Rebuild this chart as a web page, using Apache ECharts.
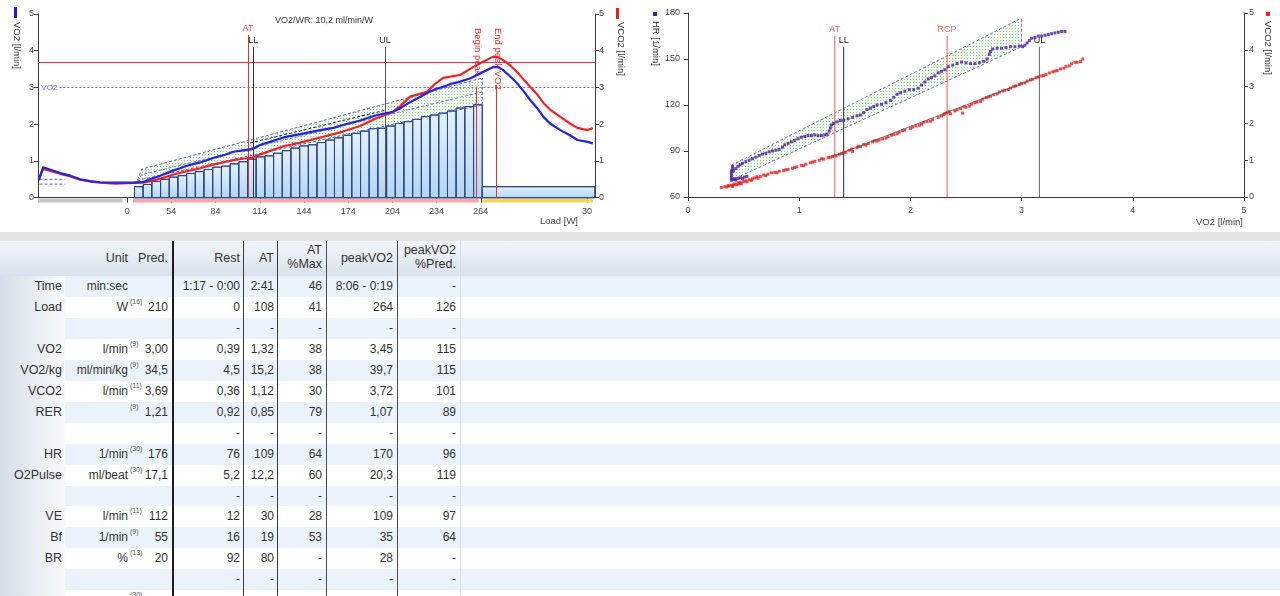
<!DOCTYPE html>
<html>
<head>
<meta charset="utf-8">
<script src="https://cdn.jsdelivr.net/npm/echarts@6/dist/echarts.min.js"></script>
<style>
  body { margin: 0; background: #fff; font-family: 'Liberation Sans', Arial, sans-serif; }
  #chart { position: absolute; left: 0; top: 0; width: 1280px; height: 232px; }
  #gap { position: absolute; left: 0; top: 232px; width: 1280px; height: 9px; background: #e3e3e3; }
  #table { position: absolute; left: 0; top: 241px; width: 1280px; height: 355px; overflow: hidden; color: #333; }
  #table div { position: absolute; white-space: nowrap; }
  .c { font-size: 12px; text-align: right; }
  .h { font-size: 12.5px; text-align: right; line-height: 14px; }
  .sup { font-size: 7px; color: #555; }
</style>
</head>
<body>
<div id="chart"></div>
<div id="gap"></div>
<div id="table"></div>
<script>
// ---- left chart: VO2 / VCO2 over time (seconds from start of load) ----
const tickTimes = [0, 60, 120, 180, 240, 300, 360, 420, 480, 624]
const tickLoads = ['0', '54', '84', '114', '144', '174', '204', '234', '264', '30']

// load steps (W) of the ramp, one per step
const loadSteps = [30, 36, 44, 50, 56, 60, 66, 71, 77, 83, 86, 92, 98, 105, 111, 114, 121, 128, 135, 141,
  144, 150, 157, 163, 170, 175, 181, 188, 189, 195, 202, 207, 213, 221, 225, 230, 236, 244, 248, 253]
const stepStart = 10
const stepSec = 11.8
const recovery = [482, 635, 30] // start, end, load W

// rest / exercise / recovery phases
const phases = [[-121, -6], [8, 477], [482, 632]]
const phaseColors = ['#c4c4c4', '#f4a9a9', '#f3d55c']

const vo2Curve = [[-120, 0.48], [-114, 0.83], [-104, 0.76], [-91, 0.67], [-77, 0.6], [-64, 0.5], [-50, 0.45], [-37, 0.42],
  [-16, 0.41], [8, 0.41], [22, 0.43], [31, 0.5], [41, 0.57], [52, 0.65], [61, 0.73], [72, 0.8], [81, 0.87], [99, 0.96],
  [117, 1.08], [133, 1.17], [144, 1.25], [155, 1.28], [164, 1.3], [171, 1.33], [181, 1.44], [194, 1.52], [212, 1.64],
  [235, 1.73], [262, 1.84], [280, 1.9], [293, 1.98], [316, 2.1], [339, 2.25], [361, 2.34], [372, 2.45], [384, 2.6],
  [398, 2.75], [407, 2.85], [418, 2.95], [429, 3.02], [440, 3.1], [452, 3.16], [466, 3.25], [475, 3.34], [486, 3.45],
  [497, 3.56], [504, 3.55], [510, 3.48], [520, 3.3], [529, 3.12], [538, 2.9], [547, 2.66], [557, 2.43], [565, 2.2],
  [574, 2.02], [588, 1.84], [601, 1.7], [611, 1.57], [625, 1.52], [632, 1.48]]

const vco2Curve = [[-120, 0.5], [-114, 0.78], [-104, 0.73], [-91, 0.65], [-77, 0.58], [-64, 0.49], [-50, 0.44], [-37, 0.41],
  [-16, 0.38], [8, 0.4], [22, 0.41], [31, 0.45], [41, 0.5], [52, 0.56], [61, 0.62], [81, 0.72], [99, 0.8], [117, 0.9],
  [144, 1.02], [164, 1.08], [171, 1.1], [181, 1.18], [212, 1.4], [235, 1.5], [262, 1.64], [293, 1.8], [316, 1.95],
  [339, 2.17], [361, 2.34], [371, 2.5], [384, 2.75], [407, 2.88], [418, 3.1], [429, 3.26], [440, 3.3], [452, 3.34],
  [470, 3.56], [483, 3.7], [497, 3.84], [504, 3.82], [510, 3.75], [520, 3.6], [529, 3.43], [538, 3.22], [547, 3.02],
  [557, 2.8], [565, 2.58], [574, 2.4], [588, 2.2], [601, 2.02], [611, 1.9], [625, 1.84], [632, 1.9]]

// predicted VO2 band
const bandTimes = [14, 20, 482]
const bandLow = [0.45, 0.5, 2.53]
const bandHigh = [0.48, 0.78, 3.26]
const bandMid = [0.46, 0.63, 2.88]
const restRefTimes = [-119, -84]
const restRefLow = 0.37
const restRefHigh = 0.5
const llSlope = [[167, 1.49], [350, 2.38]]

// ---- right chart: HR and VCO2 against VO2 ----
const hrPoints = [[0.39, 71], [0.39, 72.5], [0.39, 74], [0.39, 75.5], [0.39, 77], [0.4, 78.5], [0.4, 80], [0.41, 71.5],
  [0.42, 72], [0.43, 71], [0.45, 72], [0.47, 72.5], [0.49, 72], [0.51, 73], [0.53, 73.5],
  [0.41, 77], [0.43, 78.5], [0.45, 80], [0.47, 81], [0.49, 82], [0.52, 83], [0.55, 84], [0.58, 85], [0.61, 86],
  [0.64, 87], [0.67, 88], [0.7, 88.5], [0.73, 89.5], [0.76, 90], [0.79, 90.5], [0.82, 91], [0.85, 92.5], [0.87, 94],
  [0.9, 95], [0.93, 96], [0.96, 97], [0.99, 98], [1.02, 99], [1.05, 99.5], [1.08, 100], [1.11, 100], [1.14, 100.5],
  [1.17, 100], [1.2, 100], [1.23, 100.5], [1.25, 101], [1.27, 103], [1.28, 105], [1.29, 107], [1.31, 108], [1.34, 109],
  [1.37, 110], [1.4, 110], [1.44, 111], [1.48, 112], [1.52, 113], [1.55, 113.5], [1.58, 115], [1.61, 117], [1.64, 118],
  [1.67, 119], [1.7, 120], [1.74, 120.5], [1.78, 121.5], [1.82, 123], [1.85, 125], [1.88, 127], [1.91, 128], [1.95, 129],
  [1.99, 130], [2.03, 130], [2.07, 131], [2.1, 133], [2.13, 135], [2.16, 137], [2.19, 138], [2.22, 139], [2.25, 141],
  [2.28, 142], [2.31, 143], [2.34, 145], [2.38, 146], [2.42, 147], [2.46, 148], [2.5, 147.5], [2.54, 147], [2.58, 147],
  [2.62, 147.5], [2.66, 148.5], [2.69, 150], [2.71, 153], [2.72, 155], [2.74, 156.5], [2.78, 157], [2.82, 157],
  [2.86, 157.5], [2.9, 158], [2.94, 158], [2.98, 158.5], [3.01, 158], [3.03, 159], [3.05, 160.5], [3.07, 162],
  [3.09, 163.5], [3.12, 164], [3.15, 165], [3.18, 165], [3.21, 165.5], [3.24, 166], [3.27, 166.5], [3.3, 167],
  [3.33, 167.5], [3.36, 168], [3.39, 168]]

const vco2Points = [[0.3, 0.26], [0.33, 0.28], [0.35, 0.27], [0.37, 0.3], [0.39, 0.32], [0.4, 0.29], [0.42, 0.35],
  [0.44, 0.33], [0.45, 0.38], [0.47, 0.4], [0.48, 0.36], [0.5, 0.42], [0.52, 0.44], [0.55, 0.47], [0.57, 0.45],
  [0.6, 0.52], [0.62, 0.55], [0.65, 0.56], [0.68, 0.6], [0.72, 0.62], [0.75, 0.66], [0.78, 0.67], [0.82, 0.7],
  [0.86, 0.72], [0.9, 0.75], [0.94, 0.78], [0.98, 0.82], [1.02, 0.86], [1.06, 0.89], [1.1, 0.93], [1.14, 0.97],
  [1.18, 1.0], [1.22, 1.03], [1.26, 1.07], [1.3, 1.1], [1.33, 1.12], [1.38, 1.18], [1.42, 1.22], [1.45, 1.27],
  [1.48, 1.24], [1.52, 1.34], [1.55, 1.37], [1.58, 1.43], [1.62, 1.45], [1.66, 1.5], [1.7, 1.52], [1.75, 1.58],
  [1.8, 1.64], [1.85, 1.7], [1.9, 1.76], [1.95, 1.82], [2.0, 1.86], [2.05, 1.93], [2.1, 1.98], [2.15, 2.05],
  [2.2, 2.1], [2.25, 2.16], [2.3, 2.24], [2.33, 2.29], [2.36, 2.26], [2.4, 2.34], [2.45, 2.4], [2.5, 2.44],
  [2.55, 2.52], [2.6, 2.58], [2.65, 2.66], [2.7, 2.72], [2.75, 2.78], [2.8, 2.85], [2.85, 2.9], [2.9, 2.96],
  [2.95, 3.02], [3.0, 3.08], [3.05, 3.15], [3.1, 3.2], [3.15, 3.26], [3.2, 3.3], [3.25, 3.37], [3.3, 3.42],
  [3.35, 3.48], [3.4, 3.55], [3.45, 3.62], [3.5, 3.66], [3.55, 3.75],
  [0.36, 0.31], [0.41, 0.33], [0.46, 0.36], [0.53, 0.41], [0.58, 0.49], [0.63, 0.51], [0.7, 0.58], [0.8, 0.66],
  [0.88, 0.74], [0.96, 0.8], [1.04, 0.85], [1.12, 0.95], [1.2, 1.04], [1.28, 1.08], [1.36, 1.16], [1.4, 1.2],
  [1.47, 1.3], [1.53, 1.38], [1.6, 1.41], [1.68, 1.53], [1.72, 1.55], [1.78, 1.6], [1.83, 1.68], [1.88, 1.72],
  [1.93, 1.8], [2.02, 1.9], [2.08, 1.95], [2.12, 2.03], [2.18, 2.06], [2.28, 2.2], [2.31, 2.27], [2.35, 2.32],
  [2.42, 2.37], [2.47, 2.28], [2.48, 2.45], [2.53, 2.47], [2.58, 2.56], [2.63, 2.6], [2.68, 2.7], [2.72, 2.74],
  [2.78, 2.8], [2.83, 2.88], [2.88, 2.92], [2.93, 3.0], [2.98, 3.06], [3.03, 3.1], [3.08, 3.18], [3.13, 3.24],
  [3.18, 3.29], [3.22, 3.33], [3.28, 3.4], [3.32, 3.44], [3.38, 3.5], [3.43, 3.56], [3.48, 3.66], [3.53, 3.68]]
const vco2Trend = [[1.3, 1.1], [3.16, 3.27]]

const hrBandVO2 = [0.39, 3.0]
const hrBandLow = [71, 158]
const hrBandHigh = [80.7, 176.7]

// threshold lines of the right chart: name, VO2, top HR
const hrThresholds = [['AT', 1.32, 165], ['LL', 1.40, 158], ['RCP', 2.33, 165], ['UL', 3.16, 158]]

// ---- table ----
const rowLabels = ['Time', 'Load', '', 'VO2', 'VO2/kg', 'VCO2', 'RER', '', 'HR', 'O2Pulse', '', 'VE', 'Bf', 'BR', '', '']
const units = ['min:sec', 'W', '', 'l/min', 'ml/min/kg', 'l/min', '', '', '1/min', 'ml/beat', '', 'l/min', '1/min', '%', '', '']
const refs = ['', '(16)', '', '(9)', '(9)', '(11)', '(9)', '', '(30)', '(30)', '', '(11)', '(9)', '(13)', '', '(30)']
const predVals = ['', '210', '', '3,00', '34,5', '3,69', '1,21', '', '176', '17,1', '', '112', '55', '20', '', '']
const restVals = ['1:17 - 0:00', '0', '-', '0,39', '4,5', '0,36', '0,92', '-', '76', '5,2', '-', '12', '16', '92', '-', '']
const atVals = ['2:41', '108', '-', '1,32', '15,2', '1,12', '0,85', '-', '109', '12,2', '-', '30', '19', '80', '-', '']
const atMaxVals = ['46', '41', '-', '38', '38', '30', '79', '-', '64', '60', '-', '28', '53', '-', '-', '']
const peakVals = ['8:06 - 0:19', '264', '-', '3,45', '39,7', '3,72', '1,07', '-', '170', '20,3', '-', '109', '35', '28', '-', '']
const peakPredVals = ['-', '126', '-', '115', '115', '101', '89', '-', '96', '119', '-', '97', '64', '-', '-', '']
const headers = [['Unit'], ['Pred.'], ['Rest'], ['AT'], ['AT', '%Max'], ['peakVO2'], ['peakVO2', '%Pred.']]

// dotted green fill for the prediction bands
const pat = document.createElement('canvas')
pat.width = 3
pat.height = 3
const pctx = pat.getContext('2d')
pctx.fillStyle = '#f1f9ef'
pctx.fillRect(0, 0, 3, 3)
pctx.fillStyle = '#8ccc8c'
pctx.fillRect(1, 1, 1, 1)
const dotted = { image: pat, repeat: 'repeat' }

const font = 'Liberation Sans, Arial, sans-serif'
const axisColor = '#3a3a3a'
const lbl = { fontSize: 9, color: '#444', fontFamily: font }
const noSym = ['none', 'none']

const bandDash = { color: '#5a5ad0', width: 1, type: [3, 2] }
const hrDash = { color: '#7a70c8', width: 1, type: [3, 2] }

// vertical marker line from the axis floor to `top`, label above it
function vLine(x, bottom, top, color, label, labelColor) {
  return [
    {
      coord: [x, bottom],
      lineStyle: { color: color, width: 1, type: 'solid', opacity: 1 },
      label: { show: !!label, formatter: label || '', position: 'end', distance: 2, color: labelColor || color, fontSize: 9 }
    },
    { coord: [x, top] }
  ]
}

// filled polygon between two lines, drawn through the axes
function bandPolygon(xs, low, high, xi, yi) {
  return {
    type: 'custom', xAxisIndex: xi, yAxisIndex: yi, z: 1, silent: true, data: [[xs[0], low[0]]],
    renderItem: (params, api) => {
      const pts = xs.map((x, i) => api.coord([x, low[i]]))
        .concat(xs.map((x, i) => api.coord([x, high[i]])).reverse())
      return { type: 'polygon', shape: { points: pts }, style: { fill: dotted } }
    }
  }
}

function plain(xi, yi, data, style, z) {
  return { type: 'line', xAxisIndex: xi, yAxisIndex: yi, symbol: 'none', z: z || 3, silent: true, data: data, lineStyle: style }
}

const chart = echarts.init(document.getElementById('chart'))

const barItems = loadSteps.map((w, i) => [stepStart + i * stepSec, stepStart + (i + 1) * stepSec, w])
barItems.push(recovery)

const series = [
  bandPolygon(bandTimes, bandLow, bandHigh, 0, 0),
  {
    type: 'custom', xAxisIndex: 0, yAxisIndex: 2, data: barItems, encode: { x: 0, y: 2 }, z: 2, silent: true,
    renderItem: (params, api) => {
      const p0 = api.coord([api.value(0), api.value(2)])
      const p1 = api.coord([api.value(1), 0])
      return {
        type: 'rect',
        shape: { x: p0[0], y: p0[1], width: p1[0] - p0[0], height: p1[1] - p0[1] },
        style: {
          fill: new echarts.graphic.LinearGradient(0, 0, 0, 1, [{ offset: 0, color: '#e4f0fc' }, { offset: 1, color: '#b3d5f4' }]),
          stroke: '#28478a', lineWidth: 1
        }
      }
    }
  },
  plain(0, 0, bandTimes.map((t, i) => [t, bandLow[i]]), bandDash),
  plain(0, 0, bandTimes.map((t, i) => [t, bandHigh[i]]), bandDash),
  plain(0, 0, bandTimes.map((t, i) => [t, bandMid[i]]), { color: '#7474d8', width: 1, type: [3, 2] }),
  plain(0, 0, [[bandTimes[2], bandLow[2]], [bandTimes[2], bandHigh[2]]], bandDash),
  plain(0, 0, restRefTimes.map(t => [t, restRefLow]), bandDash),
  plain(0, 0, restRefTimes.map(t => [t, restRefHigh]), bandDash),
  plain(0, 0, llSlope, { color: '#222', width: 1, type: [3, 2] }),
  {
    type: 'line', name: 'VCO2', xAxisIndex: 0, yAxisIndex: 0, symbol: 'none', z: 5,
    data: vco2Curve, lineStyle: { color: '#ee2424', width: 2.2 }
  },
  {
    type: 'line', name: 'VO2', xAxisIndex: 0, yAxisIndex: 0, symbol: 'none', z: 6,
    data: vo2Curve, lineStyle: { color: '#2323e0', width: 2.2 },
    markLine: {
      silent: true, symbol: noSym, animation: false,
      data: [
        [{ coord: [-121, 3.7], lineStyle: { color: '#e83030', width: 1, type: 'solid' }, label: { show: false } }, { coord: [635, 3.7] }],
        [{ coord: [-92, 3], lineStyle: { color: '#6b6bef', width: 1, type: [2, 2] }, label: { show: true, position: 'start', formatter: 'VO2', color: '#6b6bef', fontSize: 8, distance: 2 } }, { coord: [635, 3] }],
        vLine(164, 0, 4.43, '#e83030', 'AT', '#ee5050'),
        vLine(171, 0, 4.1, '#333333', 'LL', '#222'),
        vLine(350, 0, 4.1, '#555555', 'UL', '#222'),
        vLine(474, 0, 3.02, '#e83030', ''),
        vLine(501, 0, 3.07, '#e83030', '')
      ]
    }
  }
]

phases.forEach((p, i) => {
  series.push({
    type: 'line', xAxisIndex: 0, yAxisIndex: 0, symbol: 'none', clip: false, z: 0, silent: true,
    data: [[p[0], -0.075], [p[1], -0.075]], lineStyle: { color: phaseColors[i], width: 4 }
  })
})

// right chart threshold lines: plain two-point lines, label as a markPoint at the top
hrThresholds.forEach(([name, v, top]) => {
  const red = name === 'AT' || name === 'RCP'
  const color = red ? '#f25a5a' : (name === 'LL' ? '#2a2a2a' : '#666')
  const s = plain(1, 3, [[v, 60], [v, top]], { color: color, width: 1 }, 4)
  s.markPoint = {
    silent: true, animation: false, symbol: 'circle', symbolSize: 1,
    itemStyle: { color: 'rgba(0,0,0,0)' },
    data: [{
      coord: [v, top],
      label: { show: true, formatter: name, position: 'top', distance: 1, color: red ? '#f06868' : '#222', fontSize: 9 }
    }]
  }
  series.push(s)
})

series.push(
  bandPolygon(hrBandVO2, hrBandLow, hrBandHigh, 1, 3),
  plain(1, 3, hrBandVO2.map((v, i) => [v, hrBandLow[i]]), hrDash, 2),
  plain(1, 3, hrBandVO2.map((v, i) => [v, hrBandHigh[i]]), hrDash, 2),
  plain(1, 3, [[hrBandVO2[0], hrBandLow[0]], [hrBandVO2[0], hrBandHigh[0]]], hrDash, 2),
  plain(1, 3, [[hrBandVO2[1], hrBandLow[1]], [hrBandVO2[1], hrBandHigh[1]]], hrDash, 2),
  {
    type: 'scatter', name: 'VCO2', xAxisIndex: 1, yAxisIndex: 4, symbol: 'rect', symbolSize: 3, z: 5, silent: true,
    data: vco2Points, itemStyle: { color: '#e82020' }
  },
  plain(1, 4, vco2Trend, { color: '#555', width: 0.8 }, 6),
  {
    type: 'scatter', name: 'HR', xAxisIndex: 1, yAxisIndex: 3, symbol: 'rect', symbolSize: 3, z: 6, silent: true,
    data: hrPoints, itemStyle: { color: '#4b1c98' }
  }
)

const baseY = {
  type: 'value', splitLine: { show: false },
  axisLine: { show: true, onZero: false, lineStyle: { color: axisColor } },
  axisTick: { show: true, length: 4, lineStyle: { color: axisColor } },
  axisLabel: Object.assign({ margin: 4 }, lbl)
}

chart.setOption({
  animation: false,
  textStyle: { fontFamily: font },
  title: { text: 'VO2/WR: 10,2 ml/min/W', left: 270, top: 11, textStyle: { fontSize: 9, fontWeight: 'normal', color: '#333' } },
  grid: [
    { left: 38, top: 14, width: 557, height: 183.7 },
    { left: 688, top: 13, width: 556, height: 184 }
  ],
  xAxis: [
    {
      type: 'value', gridIndex: 0, min: -121, max: 635, splitLine: { show: false },
      axisLine: { show: true, onZero: false, lineStyle: { color: axisColor } },
      axisTick: { show: true, customValues: tickTimes, length: 5, lineStyle: { color: axisColor } },
      axisLabel: Object.assign({ customValues: tickTimes, margin: 9, formatter: v => tickLoads[tickTimes.indexOf(v)] }, lbl),
      name: 'Load [W]', nameLocation: 'end', nameGap: -17,
      nameTextStyle: { align: 'right', verticalAlign: 'top', padding: [19, 0, 0, 0], fontSize: 9.5, color: '#444' }
    },
    {
      type: 'value', gridIndex: 1, min: 0, max: 5, interval: 1, splitLine: { show: false },
      axisLine: { show: true, onZero: false, lineStyle: { color: axisColor } },
      axisTick: { show: true, length: 4, lineStyle: { color: axisColor } },
      axisLabel: Object.assign({ margin: 9 }, lbl),
      name: 'VO2 [l/min]', nameLocation: 'end', nameGap: -1,
      nameTextStyle: { align: 'right', verticalAlign: 'top', padding: [20, 0, 0, 0], fontSize: 9.5, color: '#444' }
    }
  ],
  yAxis: [
    Object.assign({}, baseY, { gridIndex: 0, min: 0, max: 5, interval: 1, position: 'left' }),
    Object.assign({}, baseY, { gridIndex: 0, min: 0, max: 5, interval: 1, position: 'right' }),
    { type: 'value', gridIndex: 0, min: 0, max: 500, show: false },
    Object.assign({}, baseY, { gridIndex: 1, min: 60, max: 180, interval: 30, position: 'left', axisLabel: Object.assign({ margin: 8 }, lbl) }),
    Object.assign({}, baseY, { gridIndex: 1, min: 0, max: 5, interval: 1, position: 'right', axisLabel: Object.assign({ margin: 5 }, lbl) })
  ],
  series: series
})

// axis titles and the rotated peak labels
const down = -Math.PI / 2
function vText(x, y, text, color) {
  return { type: 'text', x: x, y: y, rotation: down, style: { text: text, fill: color, font: '9.5px ' + font, align: 'left', verticalAlign: 'middle' } }
}
const xBegin = chart.convertToPixel({ xAxisIndex: 0 }, 474)
const xEnd = chart.convertToPixel({ xAxisIndex: 0 }, 501)
chart.setOption({
  graphic: [
    { type: 'rect', shape: { x: 14, y: 7, width: 3, height: 11 }, style: { fill: '#1b1be6' } },
    vText(17, 22, 'VO2 [l/min]', '#333'),
    { type: 'rect', shape: { x: 616, y: 8, width: 3, height: 11 }, style: { fill: '#e62020' } },
    vText(621, 22, 'VCO2 [l/min]', '#333'),
    { type: 'rect', shape: { x: 653, y: 12, width: 4, height: 4 }, style: { fill: '#4b1c98' } },
    vText(656, 21, 'HR [1/min]', '#333'),
    { type: 'rect', shape: { x: 1266, y: 12, width: 4, height: 4 }, style: { fill: '#e62020' } },
    vText(1268, 21, 'VCO2 [l/min]', '#333'),
    vText(xBegin + 1, 28, 'Begin peak VO2', '#e83030'),
    vText(xEnd + 1, 28, 'End peak VO2', '#e83030')
  ]
})

// ---- table drawing ----
const T = document.getElementById('table')
const HEAD = 35
const ROW = 20.95
const colRight = [62, 128, 168, 240, 274, 322, 393, 456]

function box(css, text, cls) {
  const d = document.createElement('div')
  if (cls) d.className = cls
  Object.assign(d.style, css)
  if (text !== undefined) d.textContent = text
  T.appendChild(d)
  return d
}

box({ left: '0px', top: '0px', width: '1280px', height: HEAD + 'px', background: 'linear-gradient(#f2f6fa, #d8e2ed)' })
for (let i = 0; i < rowLabels.length; i++) {
  box({ left: '65px', top: (HEAD + i * ROW) + 'px', width: '1215px', height: ROW + 'px', background: i % 2 === 0 ? '#eaf3fb' : '#ffffff' })
}
box({ left: '0px', top: HEAD + 'px', width: '65px', height: '330px', background: 'linear-gradient(to right, #d5dee8, #f8fafc)' })

headers.forEach((h, j) => {
  const r = colRight[j + 1]
  if (h.length === 1) {
    box({ right: (1280 - r) + 'px', top: '10px', lineHeight: '14px' }, h[0], 'h')
  } else {
    box({ right: (1280 - r) + 'px', top: '2px', lineHeight: '14px' }, h[0], 'h')
    box({ right: (1280 - r) + 'px', top: '16px', lineHeight: '14px' }, h[1], 'h')
  }
})

const cols = [rowLabels, units, predVals, restVals, atVals, atMaxVals, peakVals, peakPredVals]
for (let i = 0; i < rowLabels.length; i++) {
  const top = HEAD + i * ROW
  cols.forEach((col, j) => {
    if (!col[i]) return
    box({ right: (1280 - colRight[j]) + 'px', top: top + 'px', height: ROW + 'px', lineHeight: ROW + 'px', fontSize: j === 0 ? '12.5px' : '12px' }, col[i], 'c')
  })
  if (refs[i]) {
    box({ left: (colRight[1] + 2) + 'px', top: (top + 1) + 'px', lineHeight: '8px' }, refs[i], 'sup')
  }
}

const seps = [[172, 2, '#1d1d1d'], [243, 1, '#3a3a3a'], [277, 1, '#3a3a3a'], [326, 1, '#4a4a4a'], [397, 1, '#4a4a4a'], [460, 1, '#d8dee6']]
seps.forEach(s => box({ left: s[0] + 'px', top: '0px', width: s[1] + 'px', height: '355px', background: s[2] }))
</script>
</body>
</html>
